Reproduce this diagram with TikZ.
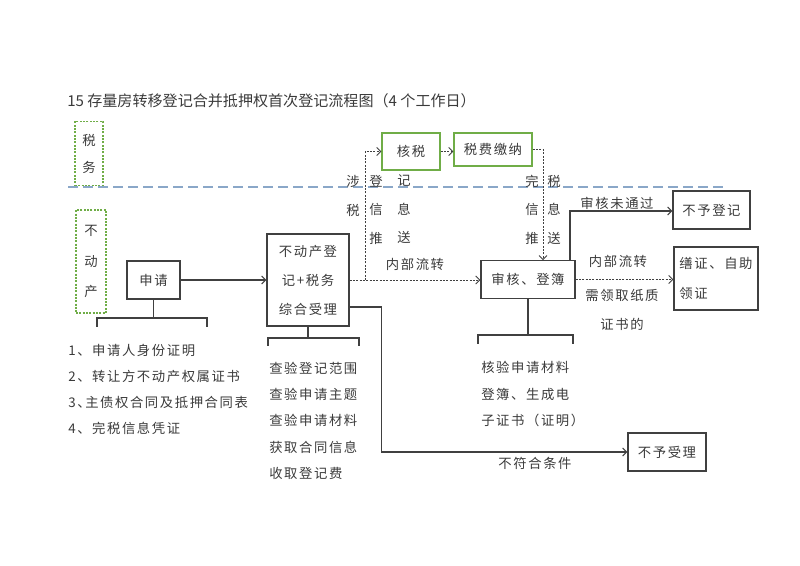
\documentclass[tikz,border=0pt]{standalone}
\usepackage{fontspec}
\setmainfont{Noto Sans CJK SC}[LetterSpace=12]
\newfontfamily\titlefont{Noto Sans CJK SC}
\usetikzlibrary{arrows.meta}
\definecolor{txtc}{HTML}{3A3A3A}
\definecolor{linec}{HTML}{404040}
\definecolor{greenc}{HTML}{70AD47}
\definecolor{bluec}{HTML}{8AA7C8}
\tikzset{
  base/.style={text=txtc, font=\fontsize{10}{19.6}\selectfont, inner sep=0pt},
  box/.style={base, draw=linec, line width=0.9pt, rectangle, align=center},
  gbox/.style={base, draw=greenc, line width=0.9pt, rectangle, align=center},
  gdot/.style={base, draw=greenc, line width=0.8pt, dash pattern=on 1.5pt off 1pt, rectangle, align=center},
  conn/.style={draw=linec, line width=0.8pt},
  arr/.style={conn, -{Straight Barb[length=3pt,width=6pt]}},
  dotc/.style={conn, line width=0.7pt, dash pattern=on 1.5pt off 1pt},
  darr/.style={dotc, -{Straight Barb[length=3pt,width=6pt]}},
  lbl/.style={base, align=center},
  lst/.style={base, align=left, anchor=west}
}
\begin{document}
\begin{tikzpicture}[x=0.75pt,y=-0.75pt]
\useasboundingbox (0,0) rectangle (800,566);
% title
\node[base, anchor=west, font=\titlefont\fontsize{11.3}{13}\selectfont] (title) at (67,100.5) {15 存量房转移登记合并抵押权首次登记流程图（4 个工作日）};
% blue dashed separator
\draw[bluec, line width=1.1pt, dash pattern=on 7.5pt off 3.75pt] (68,187) -- (724,187);
% lanes
\node[gdot, minimum width=21pt, minimum height=48pt, font=\fontsize{10}{20.25}\selectfont] (swu) at (89,153.5) {税\\务};
\node[gdot, minimum width=22.5pt, minimum height=77.25pt, font=\fontsize{10}{22.9}\selectfont] (bdc) at (91,261.5) {不\\动\\产};
% boxes
\node[box, minimum width=39.75pt, minimum height=28.5pt] (sq) at (153.5,280) {申请};
\node[box, minimum width=61.5pt, minimum height=69pt, font=\fontsize{10}{21.75}\selectfont] (sl) at (308,280) {不动产登\\记+税务\\综合受理};
\node[gbox, minimum width=43.5pt, minimum height=27.75pt] (hs) at (411,151.5) {核税};
\node[gbox, minimum width=58.5pt, minimum height=24.75pt] (sf) at (493,149.5) {税费缴纳};
\node[box, minimum width=70.5pt, minimum height=28pt] (sh) at (528,279.5) {审核、登簿};
\node[box, minimum width=57.75pt, minimum height=28.5pt] (bydj) at (711.5,210) {不予登记};
\node[box, minimum width=63pt, minimum height=47.25pt, align=left, font=\fontsize{10}{22}\selectfont] (sz) at (716,278.5) {缮证、自助\\领证};
\node[box, minimum width=58.5pt, minimum height=28.5pt] (bysl) at (667,452) {不予受理};
% connectors
\draw[arr] (sq.east) -- (sl.west);
\draw[darr] (sl.east) -- (sl.east -| sh.west);
\coordinate (br) at (365,280);
\draw[darr] (br) |- (hs.west);
\draw[darr] (hs.east) -- (hs.east -| sf.west);
\draw[darr] (sf.east) -| ([xshift=11.25pt]sh.north);
\draw[arr] ([xshift=31.5pt]sh.north) |- ([yshift=-0.75pt]bydj.west);
\draw[darr] (sh.east) -- (sh.east -| sz.west);
\draw[arr] ([yshift=-20.25pt]sl.east) -- ++(32,0) |- (bysl.west);
% brackets
\draw[conn] (sq.south) -- ++(0,19);
\draw[conn] (97,327) -- (97,318) -- (207,318) -- (207,327);
\draw[conn] (sl.south) -- ++(0,12);
\draw[conn] (268,346) -- (268,338) -- (359,338) -- (359,346);
\draw[conn] (sh.south) -- ++(0,37);
\draw[conn] (478,344) -- (478,335) -- (573,335) -- (573,344);
% labels
\node[lbl, font=\fontsize{10}{21.75}\selectfont] (l1) at (353,195.5) {涉\\税};
\node[lbl, font=\fontsize{10}{21.4}\selectfont] (l2) at (376,209.5) {登\\信\\推};
\node[lbl, font=\fontsize{10}{21.4}\selectfont] (l3) at (404,209.5) {记\\息\\送};
\node[lbl] (l4) at (415,264) {内部流转};
\node[lbl, font=\fontsize{10}{21.4}\selectfont] (l5) at (532,209.5) {完\\信\\推};
\node[lbl, font=\fontsize{10}{21.4}\selectfont] (l6) at (554,209.5) {税\\息\\送};
\node[lbl] (l7) at (617,203) {审核未通过};
\node[lbl] (l8) at (618,261) {内部流转};
\node[lbl] (l9) at (622,295) {需领取纸质};
\node[lbl] (l10) at (622,324) {证书的};
\node[lbl] (l11) at (535,463) {不符合条件};
% lists
\node[lst] (list1) at (68,389.3) {1、申请人身份证明\\2、转让方不动产权属证书\\3、\hspace{-4pt}主债权合同及抵押合同表\\4、完税信息凭证};
\node[lst] (list2) at (269,420.8) {查验登记范围\\查验申请主题\\查验申请材料\\获取合同信息\\收取登记费};
\node[lst] (list3) at (481,394) {核验申请材料\\登簿、生成电\\子证书（证明）};
\end{tikzpicture}
\end{document}
